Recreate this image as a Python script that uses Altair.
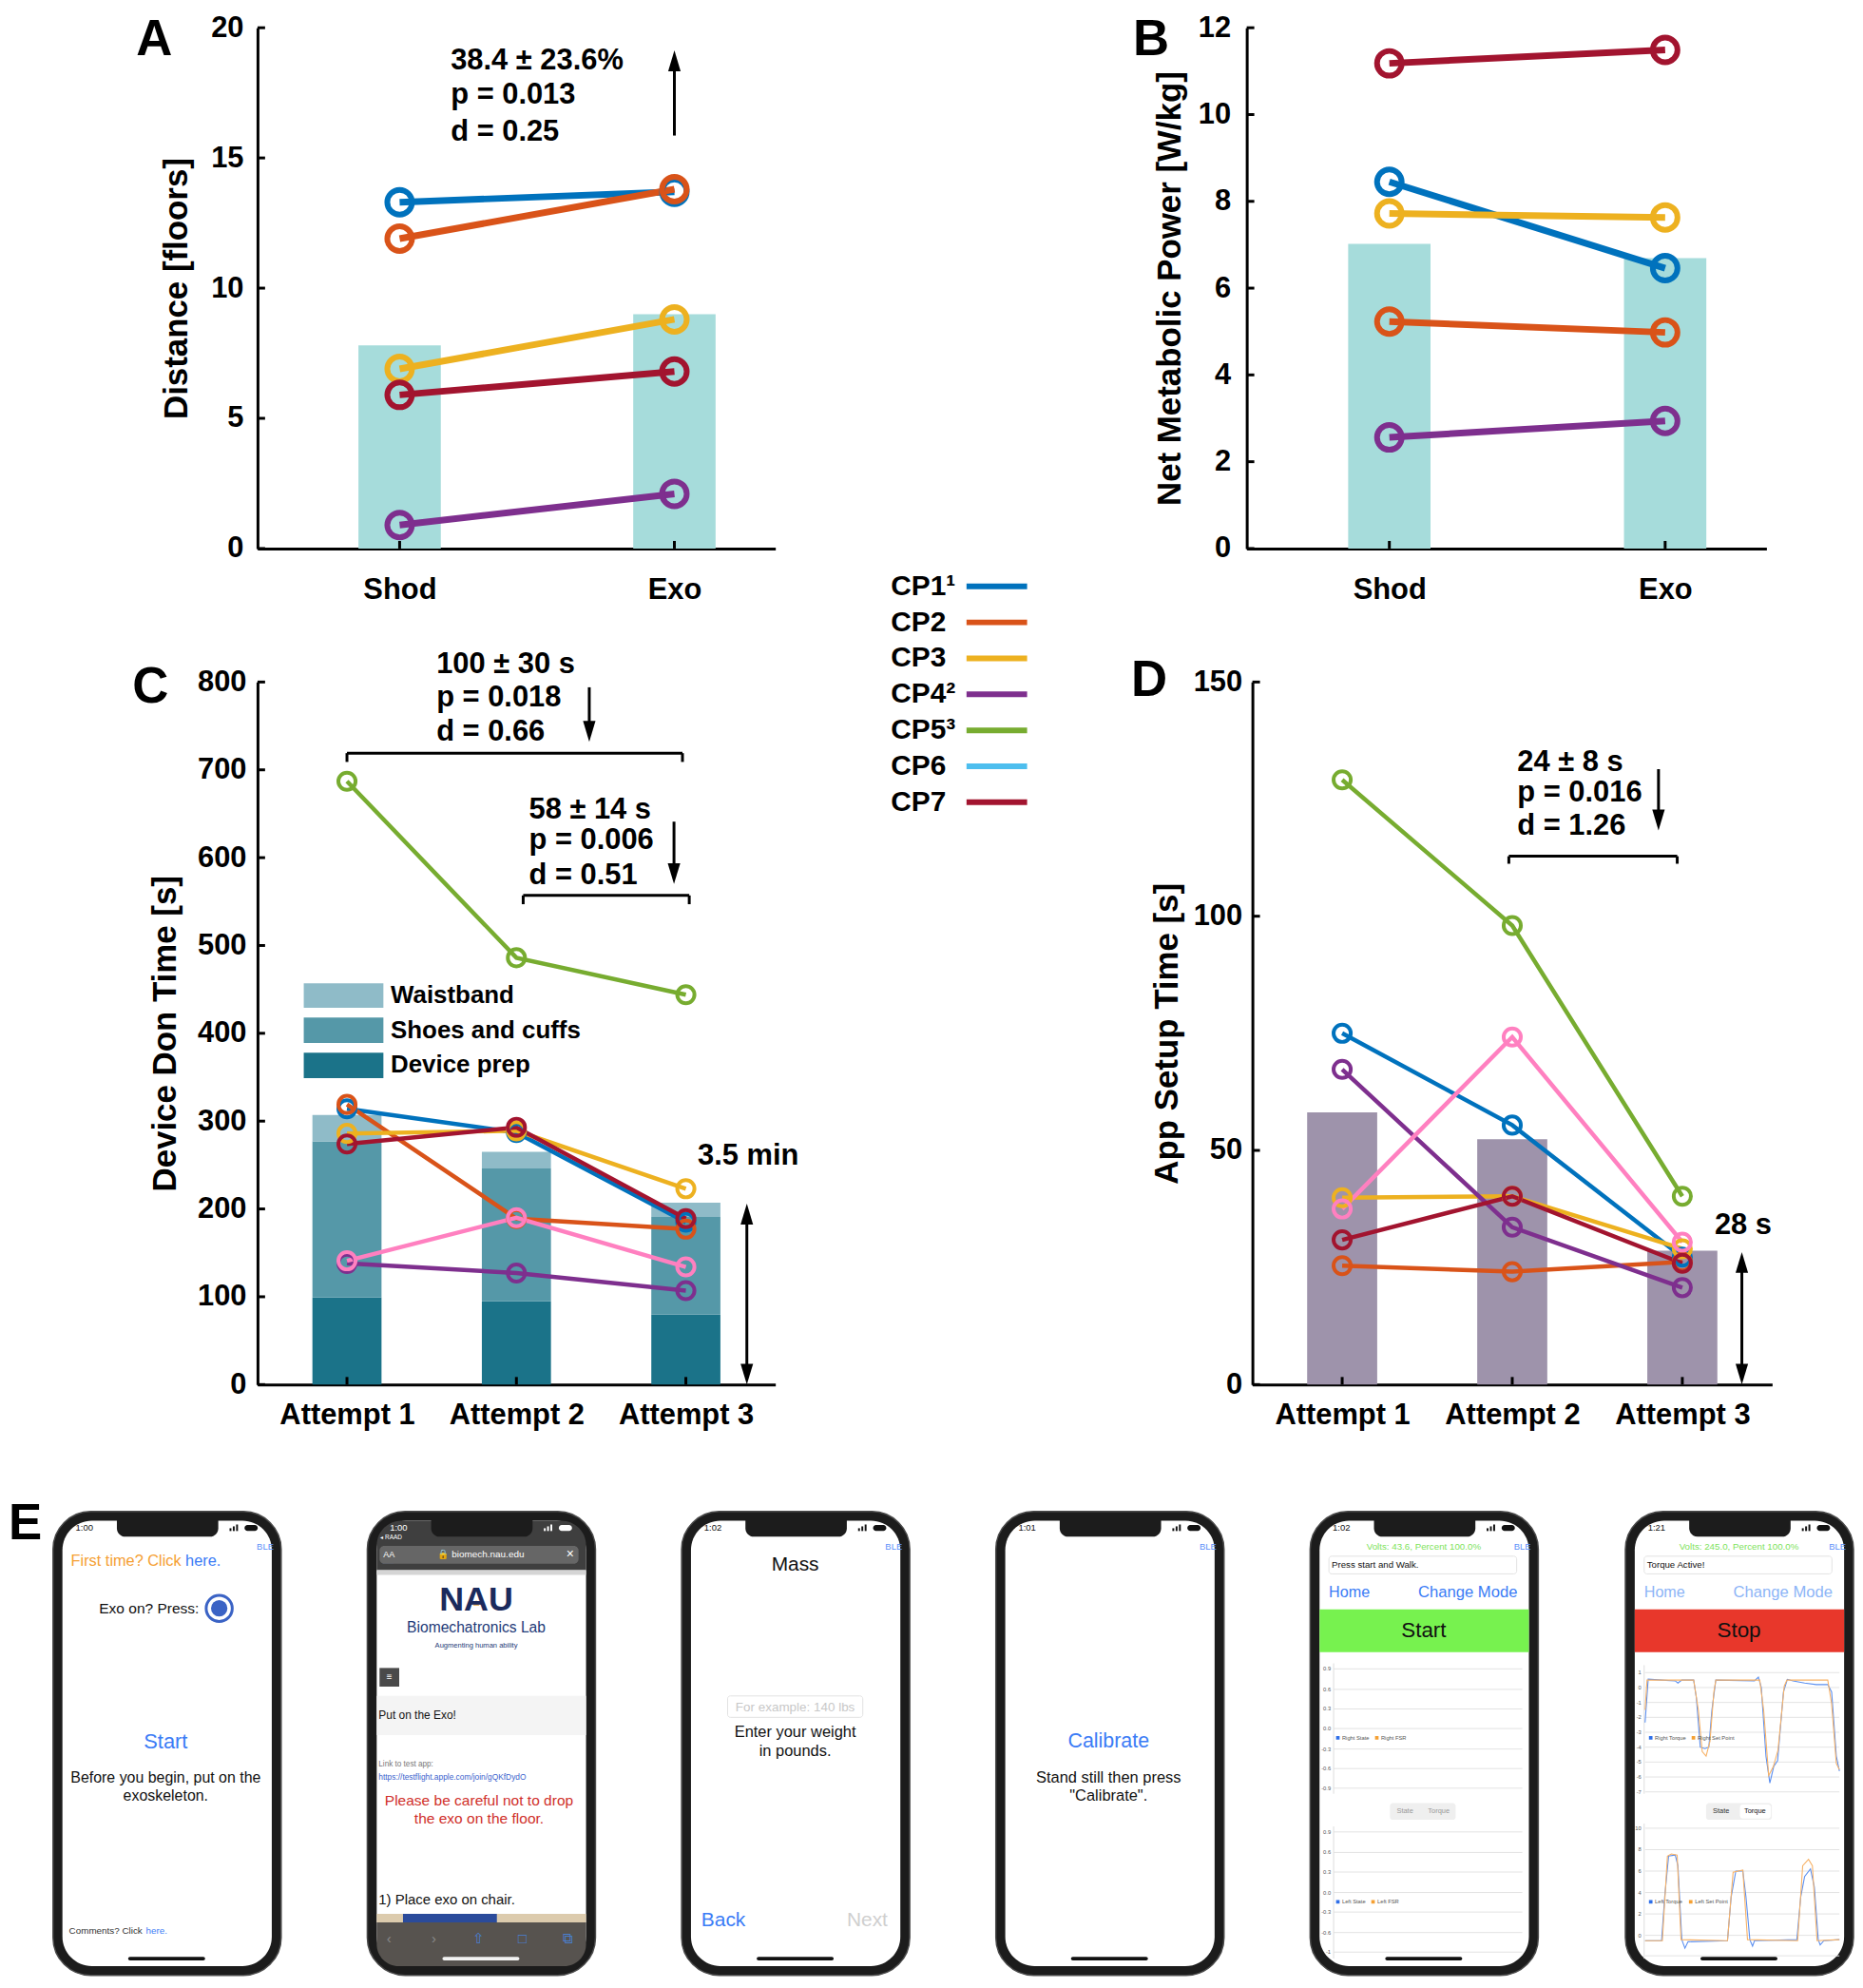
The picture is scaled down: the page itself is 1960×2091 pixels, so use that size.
import altair as alt
import pandas as pd

FONT = "Liberation Sans"

# ---------------- series / categories ----------------
CP_NAMES = ["CP1", "CP2", "CP3", "CP4", "CP5", "CP6", "CP7"]
CP_COLORS = ["#0072BD", "#D95319", "#EDB120", "#7E2F8E", "#77AC30", "#FF80C0", "#A2142F"]
LEGEND_LABELS = ["CP1\u00b9", "CP2", "CP3", "CP4\u00b2", "CP5\u00b3", "CP6", "CP7"]
LEGEND_COLORS = ["#0072BD", "#D95319", "#EDB120", "#7E2F8E", "#77AC30", "#4DBEEE", "#A2142F"]

# Panel A: distance [floors]
AB_CONDITIONS = ["Shod", "Exo"]
A_CPS = ["CP1", "CP2", "CP3", "CP4", "CP7"]
A_SHOD = [13.3, 11.9, 6.9, 0.9, 5.9]
A_EXO = [13.7, 13.8, 8.8, 2.1, 6.8]
A_MEAN = [7.8, 9.0]
A_YTICKS = [0, 5, 10, 15, 20]
A_STATS = ["38.4 \u00b1 23.6%", "p = 0.013", "d = 0.25"]

# Panel B: net metabolic power [W/kg]
B_CPS = ["CP1", "CP2", "CP3", "CP4", "CP7"]
B_SHOD = [8.45, 5.23, 7.72, 2.56, 11.18]
B_EXO = [6.46, 4.98, 7.63, 2.94, 11.49]
B_MEAN = [7.02, 6.69]
B_YTICKS = [0, 2, 4, 6, 8, 10, 12]

# Panel C: device don time [s]
ATTEMPTS = ["Attempt 1", "Attempt 2", "Attempt 3"]
C_SERIES = {
    "CP1": [314, 287, 185],
    "CP2": [319, 189, 177],
    "CP3": [286, 289, 223],
    "CP4": [138, 127, 107],
    "CP5": [687, 486, 444],
    "CP6": [141, 190, 134],
    "CP7": [274, 293, 189],
}
C_PARTS = ["Device prep", "Shoes and cuffs", "Waistband"]
C_PART_COLORS = ["#1B7389", "#5598A8", "#8FBBC8"]
C_PREP = [99, 95, 80]
C_SHOES = [178, 151, 111]
C_WAIST = [30, 19, 16]
C_YTICKS = [0, 100, 200, 300, 400, 500, 600, 700, 800]
C_STATS_1 = ["100 \u00b1 30 s", "p = 0.018", "d = 0.66"]
C_STATS_2 = ["58 \u00b1 14 s", "p = 0.006", "d = 0.51"]
C_TOTAL_LABEL = "3.5 min"
C_TOTAL = 206

# Panel D: app setup time [s]
D_SERIES = {
    "CP1": [75.0, 55.4, 27.2],
    "CP2": [25.4, 24.1, 26.2],
    "CP3": [39.9, 40.2, 29.0],
    "CP4": [67.3, 33.6, 20.7],
    "CP5": [129.1, 98.0, 40.2],
    "CP6": [37.5, 74.2, 30.4],
    "CP7": [30.9, 40.2, 25.9],
}
D_MEAN = [58.1, 52.4, 28.6]
D_YTICKS = [0, 50, 100, 150]
D_STATS = ["24 \u00b1 8 s", "p = 0.016", "d = 1.26"]
D_TOTAL_LABEL = "28 s"
D_TOTAL = 28.3

# ---------------- layout (annotation placement, in axis units) ----------------
A_STATS_POS = (1.186, [18.71, 17.41, 15.99])
A_ARROW = [(2.0, 15.86, 19.13, "up")]
C_STATS_1_POS = (1.528, [820, 782, 743])
C_STATS_2_POS = (2.074, [654, 620, 580])
C_BRACKETS = [(1.0, 2.98, 719, 709), (2.04, 3.02, 557, 547)]
C_ARROWS = [(2.43, 732, 794, "down"), (2.93, 570, 641, "down"), (3.36, 0, C_TOTAL, "both")]
C_TOTAL_POS = (3.07, 260)
C_KEY_X = (0.745, 1.215, 1.258)
C_KEY_Y = [(349, 378, 364), (389, 418, 403), (429, 457, 443)]
D_STATS_POS = (2.03, [132.8, 126.4, 119.2])
D_BRACKETS = [(1.98, 2.97, 112.8, 111.2)]
D_ARROWS = [(2.86, 118.3, 131.4, "down"), (3.35, 0, D_TOTAL, "both")]
D_TOTAL_POS = (3.19, 34)

UP = "M0,-1L-0.6,1L0.6,1Z"
DOWN = "M0,1L-0.6,-1L0.6,-1Z"
HEAD_R = 11
STAT_FONT = 31


def make_axes(xdom, ydom, xvals, xexpr, yvals, ytitle, xpad, ypad, tpad, width, shift=0):
    if shift:
        xs = alt.Scale(domain=xdom, range=[shift, width + shift], nice=False, zero=False)
    else:
        xs = alt.Scale(domain=xdom, nice=False, zero=False)
    ys = alt.Scale(domain=ydom, nice=False, zero=False)
    xa = alt.Axis(values=xvals, labelExpr=xexpr, title=None, labelPadding=xpad,
                  labelFlush=False, labelOverlap=False)
    ya = alt.Axis(values=yvals, title=ytitle, labelPadding=ypad, titlePadding=tpad,
                  labelFlush=False, labelOverlap=False, offset=-shift)

    def X(f):
        return alt.X(f, type="quantitative", scale=xs, axis=xa)

    def Y(f):
        return alt.Y(f, type="quantitative", scale=ys, axis=ya)
    return X, Y


def tick_layers(X, Y, xvals, yvals, height, shift=0):
    yt = alt.Chart(pd.DataFrame({"v": yvals})).mark_rule(color="black", strokeWidth=3).encode(
        y=Y("v"), x=alt.value(shift), x2=alt.value(shift + 8))
    xt = alt.Chart(pd.DataFrame({"v": xvals})).mark_rule(color="black", strokeWidth=3).encode(
        x=X("v"), y=alt.value(height), y2=alt.value(height - 8))
    return [yt, xt]


def series_layers(X, Y, df, line_w, pt_size, pt_w):
    color = alt.Color("cp:N", scale=alt.Scale(domain=CP_NAMES, range=CP_COLORS), legend=None)
    line = alt.Chart(df).mark_line(strokeWidth=line_w).encode(x=X("x"), y=Y("v"), color=color, detail="cp:N")
    pts = alt.Chart(df).mark_point(shape="circle", filled=False, size=pt_size, strokeWidth=pt_w,
                                   opacity=1).encode(x=X("x"), y=Y("v"), color=color)
    return [line, pts]


def text_layer(X, Y, x, ys, texts, size):
    df = pd.DataFrame({"x": [x] * len(texts), "y": ys, "t": texts})
    return alt.Chart(df).mark_text(font=FONT, fontSize=size, fontWeight="bold", align="left",
                                   baseline="middle", color="black").encode(x=X("x"), y=Y("y"), text="t:N")


def arrow_layers(X, Y, arrows):
    layers = []
    for kind in ("up", "down", "both"):
        sub = [a for a in arrows if a[3] == kind]
        if not sub:
            continue
        df = pd.DataFrame({"x": [a[0] for a in sub], "lo": [a[1] for a in sub], "hi": [a[2] for a in sub]})
        kw = {}
        if kind in ("down", "both"):
            kw["yOffset"] = -HEAD_R
        if kind in ("up", "both"):
            kw["y2Offset"] = HEAD_R
        layers.append(alt.Chart(df).mark_rule(color="black", strokeWidth=3, **kw).encode(
            x=X("x"), y=Y("lo"), y2="hi"))
        if kind in ("up", "both"):
            layers.append(alt.Chart(df).mark_point(shape=UP, filled=True, size=4 * HEAD_R * HEAD_R,
                                                   color="black", opacity=1, yOffset=HEAD_R).encode(
                x=X("x"), y=Y("hi")))
        if kind in ("down", "both"):
            layers.append(alt.Chart(df).mark_point(shape=DOWN, filled=True, size=4 * HEAD_R * HEAD_R,
                                                   color="black", opacity=1, yOffset=-HEAD_R).encode(
                x=X("x"), y=Y("lo")))
    return layers


def bracket_layers(X, Y, brackets):
    h = pd.DataFrame({"x1": [b[0] for b in brackets], "x2": [b[1] for b in brackets],
                      "y": [b[2] for b in brackets]})
    ends = pd.DataFrame({"x": [b[0] for b in brackets] + [b[1] for b in brackets],
                         "y": [b[2] for b in brackets] * 2, "ye": [b[3] for b in brackets] * 2})
    return [
        alt.Chart(h).mark_rule(color="black", strokeWidth=3).encode(x=X("x1"), x2="x2", y=Y("y")),
        alt.Chart(ends).mark_rule(color="black", strokeWidth=3).encode(x=X("x"), y=Y("ye"), y2="y"),
    ]


def letter_layer(letter, dx, dy):
    return alt.Chart(pd.DataFrame({"t": [letter]})).mark_text(
        font=FONT, fontSize=53, fontWeight="bold", align="center", baseline="middle", color="black"
    ).encode(text="t:N", x=alt.value(dx), y=alt.value(dy))


def long_df(cps, cols):
    rows = []
    for j, cp in enumerate(cps):
        for i, col in enumerate(cols):
            rows.append({"cp": cp, "x": i + 1, "v": col[j]})
    return pd.DataFrame(rows)


AB_EXPR = "['', '" + "', '".join(AB_CONDITIONS) + "'][datum.value]"
ATT_EXPR = "['', '" + "', '".join(ATTEMPTS) + "'][datum.value]"

# ---------------- Panel A ----------------
WA, HA = 547, 550
XA, YA = make_axes([0.5, 2.35], [0, 20], [1, 2], AB_EXPR, A_YTICKS, "Distance [floors]", 29, 15, 18, WA)
a_bars = alt.Chart(pd.DataFrame({"x": [1, 2], "v": A_MEAN})).mark_bar(size=87, color="#A6DCDB").encode(
    x=XA("x"), y=YA("v"))
panel_a = alt.layer(
    a_bars,
    *series_layers(XA, YA, long_df(A_CPS, [A_SHOD, A_EXO]), 7, 680, 6),
    text_layer(XA, YA, A_STATS_POS[0], A_STATS_POS[1], A_STATS, STAT_FONT),
    *arrow_layers(XA, YA, A_ARROW),
    *tick_layers(XA, YA, [1, 2], A_YTICKS, HA),
    letter_layer("A", -109, 13),
).properties(width=WA, height=HA)

# ---------------- Panel B ----------------
WB, HB = 549, 550
XB, YB = make_axes([0.5, 2.35], [0, 12], [1, 2], AB_EXPR, B_YTICKS, "Net Metabolic Power [W/kg]", 29, 17, 12, WB)
b_bars = alt.Chart(pd.DataFrame({"x": [1, 2], "v": B_MEAN})).mark_bar(size=87, color="#A6DCDB").encode(
    x=XB("x"), y=YB("v"))
panel_b = alt.layer(
    b_bars,
    *series_layers(XB, YB, long_df(B_CPS, [B_SHOD, B_EXO]), 7, 680, 6),
    *tick_layers(XB, YB, [1, 2], B_YTICKS, HB),
    letter_layer("B", -101, 13),
).properties(width=WB, height=HB)

# ---------------- Legend ----------------
leg_df = pd.DataFrame({"label": LEGEND_LABELS, "color": LEGEND_COLORS})
leg_scale = alt.Scale(type="point", domain=LEGEND_LABELS, range=[590, 818], padding=0)
legend_view = alt.layer(
    alt.Chart(leg_df).mark_text(font=FONT, fontSize=30, fontWeight="bold", align="left",
                                baseline="middle", color="black").encode(
        y=alt.Y("label:N", scale=leg_scale, axis=None), x=alt.value(9), text="label:N"),
    alt.Chart(leg_df).mark_rule(strokeWidth=6).encode(
        y=alt.Y("label:N", scale=leg_scale, axis=None), x=alt.value(89), x2=alt.value(153),
        color=alt.Color("color:N", scale=None)),
).properties(width=272, height=550)

# ---------------- Panel C ----------------
WC, HC = 547, 742
XC, YC = make_axes([0.5, 3.5], [0, 800], [1, 2, 3], ATT_EXPR, C_YTICKS, "Device Don Time [s]", 17, 12, 16, WC)
part_fill = alt.Fill("part:N", scale=alt.Scale(domain=C_PARTS, range=C_PART_COLORS), legend=None)
part_rows = []
for order, (part, vals) in enumerate(zip(C_PARTS, [C_PREP, C_SHOES, C_WAIST])):
    for i, v in enumerate(vals):
        part_rows.append({"x": i + 1, "part": part, "v": v, "o": order})
c_bars = alt.Chart(pd.DataFrame(part_rows)).transform_stack(
    stack="v", as_=["y0", "y1"], groupby=["x"], sort=[alt.SortField("o", order="ascending")]
).mark_bar(size=73).encode(x=XC("x"), y=YC("y0"), y2="y1", fill=part_fill)
key_df = pd.DataFrame({"part": C_PARTS, "x1": [C_KEY_X[0]] * 3, "x2": [C_KEY_X[1]] * 3,
                       "y1": [k[0] for k in C_KEY_Y], "y2": [k[1] for k in C_KEY_Y],
                       "xt": [C_KEY_X[2]] * 3, "yt": [k[2] for k in C_KEY_Y]})
c_key_boxes = alt.Chart(key_df).mark_rect().encode(x=XC("x1"), x2="x2", y=YC("y1"), y2="y2", fill=part_fill)
c_key_text = alt.Chart(key_df).mark_text(font=FONT, fontSize=26, fontWeight="bold", align="left",
                                         baseline="middle", color="black").encode(
    x=XC("xt"), y=YC("yt"), text="part:N")
panel_c = alt.layer(
    c_bars, c_key_boxes, c_key_text,
    *series_layers(XC, YC, long_df(list(C_SERIES.keys()), [[C_SERIES[k][i] for k in C_SERIES] for i in range(3)]),
                   4.5, 330, 4),
    *bracket_layers(XC, YC, C_BRACKETS),
    *arrow_layers(XC, YC, C_ARROWS),
    text_layer(XC, YC, C_STATS_1_POS[0], C_STATS_1_POS[1], C_STATS_1, STAT_FONT),
    text_layer(XC, YC, C_STATS_2_POS[0], C_STATS_2_POS[1], C_STATS_2, STAT_FONT),
    text_layer(XC, YC, C_TOTAL_POS[0], [C_TOTAL_POS[1]], [C_TOTAL_LABEL], STAT_FONT),
    *tick_layers(XC, YC, [1, 2, 3], C_YTICKS, HC),
    letter_layer("C", -113, 6),
).properties(width=WC, height=HC)

# ---------------- Panel D ----------------
WD, HD = 549, 742
D_SHIFT = 6
XD, YD = make_axes([0.5, 3.5], [0, 150], [1, 2, 3], ATT_EXPR, D_YTICKS, "App Setup Time [s]", 17, 11, 10,
                   WD, D_SHIFT)
d_bars = alt.Chart(pd.DataFrame({"x": [1, 2, 3], "v": D_MEAN})).mark_bar(size=74, color="#9E93AB").encode(
    x=XD("x"), y=YD("v"))
panel_d = alt.layer(
    d_bars,
    *series_layers(XD, YD, long_df(list(D_SERIES.keys()), [[D_SERIES[k][i] for k in D_SERIES] for i in range(3)]),
                   4.5, 330, 4),
    *bracket_layers(XD, YD, D_BRACKETS),
    *arrow_layers(XD, YD, D_ARROWS),
    text_layer(XD, YD, D_STATS_POS[0], D_STATS_POS[1], D_STATS, STAT_FONT),
    text_layer(XD, YD, D_TOTAL_POS[0], [D_TOTAL_POS[1]], [D_TOTAL_LABEL], STAT_FONT),
    *tick_layers(XD, YD, [1, 2, 3], D_YTICKS, HD, D_SHIFT),
    letter_layer("D", -109 + D_SHIFT, -1),
).properties(width=WD, height=HD)

# ---------------- Panel E (app screenshots) ----------------
PHONE_LEFT = [55, 387, 719, 1051, 1383, 1716]
PHONE_TOP = 1589
PHONE_W, PHONE_H = 241, 490
SX, SY = PHONE_W / 243, PHONE_H / 498
E_XDOM, E_YDOM = [271, 1960], [1596, 2082]
BLUE, LBLUE = "#3B7CF6", "#8DB5F7"

STATUS_TIMES = ["1:00", "1:00", "1:02", "1:01", "1:02", "1:21"]
GRID_P5_1 = ["0.9", "0.6", "0.3", "0.0", "-0.3", "-0.6", "-0.9"]
GRID_P5_2 = ["0.9", "0.6", "0.3", "0.0", "-0.3", "-0.6", "-1"]
GRID_P6_1 = ["1", "0", "-1", "-2", "-3", "-4", "-5", "-6", "-7"]
GRID_P6_2 = ["10", "8", "6", "4", "2", "0"]

# torque traces (time 0-100, torque units)
R_TORQUE_T = [0, 1.6, 8.5, 15.5, 16.9, 18.9, 25.0, 26.4, 28.4, 30.8, 32.8, 34.4, 36.4, 56.3, 58.3, 59.8, 62.2,
              64.2, 66.2, 68.2, 71.2, 73.2, 76.1, 82.1, 88.1, 94.0, 96.0, 98.4, 100]
R_TORQUE_V = [-2.35, 0.56, 0.5, 0.45, 0.3, 0.5, 0.5, -0.7, -4.0, -4.1, -4.0, -1.5, 0.5, 0.45, 0.7, 0.0, -4.6,
              -6.4, -5.3, -4.9, -0.3, 0.55, 0.45, 0.3, 0.2, 0.2, -0.3, -4.6, -5.6]
R_SET_T = [0, 1.0, 25.0, 27.4, 29.4, 31.4, 33.4, 35.4, 36.4, 59.0, 61.0, 63.6, 66.0, 68.4, 71.6, 73.0, 94.0,
           96.0, 98.4, 100]
R_SET_V = [-1.5, 0.5, 0.5, -1.5, -4.3, -4.6, -3.6, -0.3, 0.5, 0.5, -1.5, -5.9, -5.3, -4.2, 0.1, 0.5, 0.5,
           -1.1, -5.1, -5.5]
L_TORQUE_T = [0, 8.5, 10.1, 12.1, 15.5, 16.9, 18.9, 20.5, 22.1, 42.4, 44.3, 46.7, 50.3, 51.9, 53.9, 55.3, 56.3,
              78.1, 80.1, 82.1, 85.1, 87.1, 89.1, 90.1, 92.0, 100]
L_TORQUE_V = [-0.5, -0.5, 3.6, 7.4, 7.5, 6.5, -0.4, -1.2, -0.6, -0.5, 3.6, 6.0, 6.0, 3.6, -0.4, -1.0, -0.5,
              -0.4, 3.6, 5.5, 6.2, 4.5, -0.4, -0.9, -0.5, -0.4]
L_SET_T = [0, 8.9, 11.5, 13.5, 16.5, 18.5, 42.4, 45.3, 50.3, 52.7, 78.5, 81.1, 84.1, 86.1, 88.5, 100]
L_SET_V = [-0.5, -0.5, 7.4, 7.6, 7.5, -0.4, -0.5, 5.9, 6.1, -0.4, -0.5, 6.5, 7.1, 6.5, -0.5, -0.4]


def px(i, rx):
    return PHONE_LEFT[i] + rx * SX


def py(ry):
    return PHONE_TOP + ry * SY


rects, texts, rules, dots = [], [], [], []


def add_rect(grp, i, x1, y1, x2, y2, fill):
    rects.append({"grp": grp, "x1": px(i, x1), "x2": px(i, x2), "y1": py(y1), "y2": py(y2), "fill": fill})


def add_text(i, rx, ry, t, size, color="#111111", align="left", weight="normal"):
    texts.append({"x": px(i, rx), "y": py(ry), "t": t, "size": size, "color": color, "align": align,
                  "weight": weight})


def add_rule(i, x1, x2, y):
    rules.append({"x1": px(i, x1), "x2": px(i, x2), "y": py(y)})


for i in range(6):
    dark = i == 1
    fg = "#FFFFFF" if dark else "#111111"
    add_rect("frame", i, 0, 0, 243, 498, "#1C1C1C")
    add_rect("screen", i, 10, 10, 233, 488, "#FFFFFF")
    add_rect("notch", i, 68, 9, 176, 27, "#1C1C1C")
    add_rect("r2", i, 80, 478, 162, 482, "#F2F2F2" if dark else "#111111")
    add_rect("r2", i, 204, 14.5, 218, 21, fg)
    add_rect("r0", i, 188, 18, 190, 21, fg)
    add_rect("r0", i, 191.5, 16, 193.5, 21, fg)
    add_rect("r0", i, 195, 14, 197, 21, fg)
    add_text(i, 24, 18, STATUS_TIMES[i], 9.5, fg)
    if not dark:
        add_text(i, 226, 38, "BLE", 9.5, "#5B8FF9", "center")

# phone 1: home screen
add_text(0, 19, 53, "First time? Click", 16.4, "#F5A033")
add_text(0, 141, 53, "here.", 16.4, BLUE)
add_text(0, 49, 104, "Exo on? Press:", 15.6)
add_text(0, 120, 247, "Start", 22, BLUE, "center")
add_text(0, 120, 286, "Before you begin, put on the", 16, "#111111", "center")
add_text(0, 120, 305, "exoskeleton.", 16, "#111111", "center")
add_text(0, 17, 450, "Comments? Click", 9.9, "#333333")
add_text(0, 99, 450, "here.", 9.9, BLUE)
dots.append({"x": px(0, 177), "y": py(104), "kind": "ring"})
dots.append({"x": px(0, 177), "y": py(104), "kind": "dot"})

# phone 2: web page
add_rect("top", 1, 10, 10, 233, 63, "#3F3F3F")
add_rect("r5", 1, 13, 37, 225, 56, "#666666")
add_rect("r0", 1, 16, 54, 28, 55.5, BLUE)
add_rect("r0", 1, 10, 63, 233, 68, "#D5D5D5")
add_rect("r0", 1, 13, 168, 34, 188, "#4A4A4A")
add_rect("r0", 1, 10, 198, 233, 240, "#F4F4F4")
add_rect("r0", 1, 10, 432, 233, 441, "#DCCBAD")
add_rect("r0", 1, 38, 432, 138, 441, "#2B4B9B")
add_rect("bottom", 1, 10, 441, 233, 488, "#57534F")
add_text(1, 14, 28, "\u25c2 RAAD", 6.5, "#FFFFFF")
add_text(1, 17, 46.5, "AA", 9, "#FFFFFF")
add_text(1, 121, 46.5, "\U0001F512 biomech.nau.edu", 10, "#FFFFFF", "center")
add_text(1, 216, 46.5, "\u00d7", 14, "#FFFFFF", "center")
add_text(1, 116, 95, "NAU", 36, "#1B2A5C", "center", "bold")
add_text(1, 116, 125, "Biomechatronics Lab", 15.7, "#1E3A78", "center")
add_text(1, 116, 144, "Augmenting human ability", 7.6, "#1E3A78", "center")
add_text(1, 23.5, 178, "\u2261", 10, "#FFFFFF", "center")
add_text(1, 12, 219, "Put on the Exo!", 12, "#111111")
add_text(1, 12, 272, "Link to test app:", 8.2, "#777777")
add_text(1, 12, 285, "https://testflight.apple.com/join/gQKfDydO", 8.4, "#3A5FCD")
add_text(1, 119, 310, "Please be careful not to drop", 15.6, "#D0302B", "center")
add_text(1, 119, 330, "the exo on the floor.", 15.6, "#D0302B", "center")
add_text(1, 12, 417, "1)  Place exo on chair.", 15, "#111111")
for k, (gx, g) in enumerate(zip([23, 71, 119, 165, 214], ["\u2039", "\u203a", "\u21e7", "\u25a1", "\u29c9"])):
    add_text(1, gx, 458, g, 15, "#8A8A8A" if k < 2 else "#4A7FD0", "center")
dots.append({"x": px(1, 116), "y": py(98), "kind": "tri"})

# phone 3: mass
add_text(2, 121, 57, "Mass", 21, "#111111", "center")
add_rect("box", 2, 49, 198, 193, 221, "#FFFFFF")
add_text(2, 121, 210, "For example: 140 lbs", 13.5, "#C8C8C8", "center")
add_text(2, 121, 237, "Enter your weight", 16.5, "#111111", "center")
add_text(2, 121, 257, "in pounds.", 16.5, "#111111", "center")
add_text(2, 21, 439, "Back", 21, BLUE)
add_text(2, 176, 439, "Next", 21, "#CFCFCF")

# phone 4: calibrate
add_text(3, 120, 247, "Calibrate", 21.5, BLUE, "center")
add_text(3, 120, 286, "Stand still then press", 16.5, "#111111", "center")
add_text(3, 120, 305, "\"Calibrate\".", 16.5, "#111111", "center")

# phones 5 and 6: walking screens
for i, volts, msg, link, bar, bar_txt in [
    (4, "Volts: 43.6, Percent 100.0%", "Press start and Walk.", BLUE, "#77F24F", "Start"),
    (5, "Volts: 245.0, Percent 100.0%", "Torque Active!", LBLUE, "#E8372B", "Stop"),
]:
    add_text(i, 121, 38, volts, 9.8, "#7EE35B", "center")
    add_rect("box", i, 20, 48, 220, 67, "#FFFFFF")
    add_text(i, 23, 57.5, msg, 9.7)
    add_text(i, 20, 87, "Home", 16.2, link)
    add_text(i, 115, 87, "Change Mode", 16.7, link)
    add_rect("r0", i, 10, 105, 233, 151, bar)
    add_text(i, 121, 128, bar_txt, 22.5, "#111111", "center")

for yy, lab in zip([169, 191, 212, 233, 255, 276, 297], GRID_P5_1):
    add_rule(4, 25, 226, yy)
    add_text(4, 22, yy, lab, 5.8, "#555555", "right")
for yy, lab in zip([344, 366, 387, 409, 430, 452, 473], GRID_P5_2):
    add_rule(4, 25, 226, yy)
    add_text(4, 22, yy, lab, 5.8, "#555555", "right")
for k, lab in enumerate(GRID_P6_1):
    add_rule(5, 21, 228, 173 + 16 * k)
    add_text(5, 17, 173 + 16 * k, lab, 5.8, "#555555", "right")
for yy, lab in zip([340, 363, 386, 409, 432, 455], GRID_P6_2):
    add_rule(5, 21, 228, yy)
    add_text(5, 17, yy, lab, 5.8, "#555555", "right")
add_rule(5, 21, 228, 477)

vlines = [(4, 25, 163, 303), (4, 25, 338, 480), (5, 20, 165, 303), (5, 20, 335, 480)]

for i, items in [
    (4, [(29.5, 243, "Right State", 71, "Right FSR"), (29.5, 419, "Left State", 67, "Left FSR")]),
    (5, [(27, 243, "Right Torque", 72.5, "Right Set Point"), (27, 419, "Left Torque", 69.6, "Left Set Point")]),
]:
    for bx, by, bt, ox, ot in items:
        dots.append({"x": px(i, bx), "y": py(by), "kind": "sq_blue"})
        dots.append({"x": px(i, ox), "y": py(by), "kind": "sq_orange"})
        add_text(i, bx + 4.5, by, bt, 5.8, "#555555")
        add_text(i, ox + 4.5, by, ot, 5.8, "#555555")

add_rect("r2", 4, 85, 313, 155, 331, "#EFEFEF")
add_text(4, 101, 322, "State", 7.5, "#999999", "center")
add_text(4, 137, 322, "Torque", 7.5, "#999999", "center")
add_rect("r2", 5, 86, 313, 156, 331, "#EFEFEF")
add_rect("r2", 5, 122, 314.5, 155, 329.5, "#FFFFFF")
add_text(5, 102, 322, "State", 7.5, "#333333", "center")
add_text(5, 138, 322, "Torque", 7.5, "#111111", "center")

rect_df = pd.DataFrame(rects)
text_df = pd.DataFrame(texts)
rule_df = pd.DataFrame(rules)
dot_df = pd.DataFrame(dots)
vline_df = pd.DataFrame({"x": [px(v[0], v[1]) for v in vlines], "y1": [py(v[2]) for v in vlines],
                         "y2": [py(v[3]) for v in vlines]})

E_W = E_XDOM[1] - E_XDOM[0]
E_H = E_YDOM[1] - E_YDOM[0]
ex_scale = alt.Scale(domain=E_XDOM, range=[0, E_W], nice=False, zero=False)
ey_scale = alt.Scale(domain=E_YDOM, nice=False, zero=False, reverse=True)


def EX(f):
    return alt.X(f, type="quantitative", scale=ex_scale, axis=None)


def EY(f):
    return alt.Y(f, type="quantitative", scale=ey_scale, axis=None)


RECT_STYLES = [
    ("frame", {"cornerRadius": 40, "stroke": "#4A4A4A", "strokeWidth": 1.5}),
    ("screen", {"cornerRadius": 31}),
    ("top", {"cornerRadiusTopLeft": 31, "cornerRadiusTopRight": 31}),
    ("bottom", {"cornerRadiusBottomLeft": 31, "cornerRadiusBottomRight": 31}),
    ("r0", {}),
    ("r5", {"cornerRadius": 5}),
    ("box", {"cornerRadius": 3, "stroke": "#E2E2E2", "strokeWidth": 1}),
    ("r2", {"cornerRadius": 3}),
    ("notch", {"cornerRadiusBottomLeft": 11, "cornerRadiusBottomRight": 11}),
]
e_layers = []
for grp, style in RECT_STYLES:
    sub = rect_df[rect_df["grp"] == grp]
    if len(sub):
        e_layers.append(alt.Chart(sub).mark_rect(**style).encode(
            x=EX("x1"), x2="x2", y=EY("y1"), y2="y2", fill=alt.Fill("fill:N", scale=None)))
e_layers.append(alt.Chart(rule_df).mark_rule(strokeWidth=1, color="#E3E3E3").encode(
    x=EX("x1"), x2="x2", y=EY("y")))
e_layers.append(alt.Chart(vline_df).mark_rule(strokeWidth=1, color="#DDDDDD").encode(
    x=EX("x"), y=EY("y1"), y2="y2"))

# torque traces
trace_rows = []
for name, panel, ts, vs in [
    ("Right Torque", "upper", R_TORQUE_T, R_TORQUE_V), ("Right Set Point", "upper", R_SET_T, R_SET_V),
    ("Left Torque", "lower", L_TORQUE_T, L_TORQUE_V), ("Left Set Point", "lower", L_SET_T, L_SET_V),
]:
    for t, v in zip(ts, vs):
        trace_rows.append({"series": name, "panel": panel, "t": t, "v": v})
trace_x = f"{PHONE_LEFT[5]} + (21 + datum.t * 2.07) * {SX}"
trace_y = f"{PHONE_TOP} + (datum.panel == 'upper' ? 189 - 16 * datum.v : 455 - 11.5 * datum.v) * {SY}"
e_layers.append(alt.Chart(pd.DataFrame(trace_rows)).transform_calculate(fx=trace_x, fy=trace_y).mark_line(
    strokeWidth=1.1).encode(
    x=EX("fx"), y=EY("fy"), detail="series:N",
    stroke=alt.Stroke("series:N", scale=alt.Scale(
        domain=["Right Torque", "Right Set Point", "Left Torque", "Left Set Point"],
        range=["#5B8FF0", "#F7B267", "#5B8FF0", "#F7B267"]), legend=None)))

for kind, mk in [
    ("ring", dict(shape="circle", filled=False, size=760, strokeWidth=3, color="#3B63C5", opacity=1)),
    ("dot", dict(shape="circle", filled=True, size=300, color="#3B63C5", opacity=1)),
    ("tri", dict(shape="triangle-up", filled=True, size=45, color="#E2A23B", opacity=1)),
    ("sq_blue", dict(shape="square", filled=True, size=14, color="#2F6FE8", opacity=1)),
    ("sq_orange", dict(shape="square", filled=True, size=14, color="#F5A033", opacity=1)),
]:
    sub = dot_df[dot_df["kind"] == kind]
    e_layers.append(alt.Chart(sub).mark_point(**mk).encode(x=EX("x"), y=EY("y")))

for align in ("left", "center", "right"):
    for weight in ("normal", "bold"):
        sub = text_df[(text_df["align"] == align) & (text_df["weight"] == weight)]
        if len(sub):
            e_layers.append(alt.Chart(sub).mark_text(font=FONT, align=align, fontWeight=weight,
                                                     baseline="middle").encode(
                x=EX("x"), y=EY("y"), text="t:N", size=alt.Size("size:Q", scale=None),
                color=alt.Color("color:N", scale=None)))

e_letter = alt.Chart(pd.DataFrame({"t": ["E"], "x": [8], "y": [1602]})).mark_text(
    font=FONT, fontSize=53, fontWeight="bold", align="left", baseline="middle", color="black"
).encode(x=EX("x"), y=EY("y"), text="t:N")
e_layers.append(e_letter)

# E cell is given the first column's width; its x scale range runs past it
panel_e = alt.layer(*e_layers).properties(width=WC, height=E_H)


def spacer(w, h):
    return alt.Chart(pd.DataFrame({"a": [0]})).mark_point(opacity=0).encode(
        x=alt.value(0), y=alt.value(0)).properties(width=w, height=h)


# ---------------- assemble (flat 3-column grid, flush bounds) ----------------
chart = alt.concat(
    panel_a, legend_view, panel_b,
    panel_c, spacer(272, 20), panel_d,
    panel_e,
    columns=3, spacing={"row": 141, "column": 113}, bounds="flush",
).properties(
    padding=0, background="white"
).configure_axis(
    domainColor="black", domainWidth=3, labelFont=FONT, labelFontSize=31, labelFontWeight="bold",
    labelColor="black", titleFont=FONT, titleFontSize=35, titleFontWeight="bold", titleColor="black",
    ticks=False, grid=False,
).configure_view(stroke="transparent")

chart.save("out.html", embed_options={"renderer": "svg", "actions": False})
